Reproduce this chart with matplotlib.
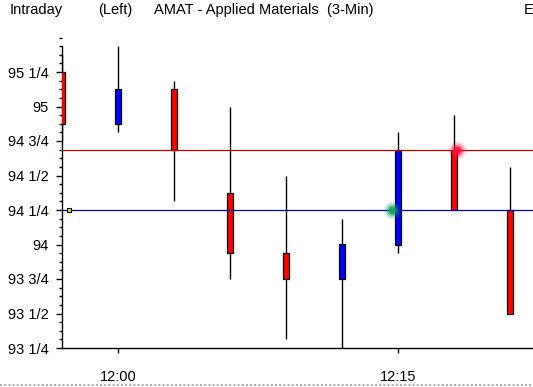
import matplotlib
matplotlib.use('Agg')
import matplotlib.pyplot as plt
from matplotlib.patches import Rectangle
from matplotlib.lines import Line2D
from matplotlib.ticker import MultipleLocator, FuncFormatter

plt.rcParams['font.family'] = ['Liberation Sans', 'DejaVu Sans']
plt.rcParams['font.size'] = 10

# 3-minute bars
times = ['11:57', '12:00', '12:03', '12:06', '12:09', '12:12', '12:15', '12:18', '12:21']
opens = [95.25, 94.875, 95.125, 94.375, 93.9375, 93.75, 94.0, 94.6875, 94.25]
highs = [95.375, 95.4375, 95.1875, 95.0, 94.5, 94.1875, 94.8125, 94.9375, 94.5625]
lows = [94.75, 94.8125, 94.3125, 93.75, 93.3125, 93.25, 93.9375, 94.25, 93.5]
closes = [94.875, 95.125, 94.6875, 93.9375, 93.75, 94.0, 94.6875, 94.25, 93.5]

# reference levels
upper_level = 94.6875
lower_level = 94.25

# signal dots (x in bar units, price)
buy_x, buy_y = 5.9, 94.25
sell_x, sell_y = 7.05, 94.6875
marker_x, marker_y = 0.12, 94.25


def frac_fmt(v, pos):
    whole = int(v // 1)
    rest = round((v - whole) * 4)
    names = {0: '', 1: ' 1/4', 2: ' 1/2', 3: ' 3/4'}
    return str(whole) + names[rest]


W, H = 533, 387
fig = plt.figure(figsize=(W / 100, H / 100), dpi=100)
ax = fig.add_axes([62 / W, (H - 348) / H, 1 - 62 / W, (348 - 30) / H])

body_w = 0.09
for i in range(len(times)):
    o, h, l, c = opens[i], highs[i], lows[i], closes[i]
    ax.plot([i, i], [l, h], color='black', lw=1.0, zorder=2, solid_capstyle='butt')
    col = 'blue' if c > o else 'red'
    ax.add_patch(Rectangle((i - body_w / 2, min(o, c)), body_w, abs(c - o),
                           facecolor=col, edgecolor='black', lw=0.9, zorder=3))

ax.axhline(upper_level, color='#c00000', lw=0.9, zorder=4)
ax.axhline(lower_level, color='#0000b0', lw=0.9, zorder=4)

# glowing dots
for s, a in [(170, 0.12), (110, 0.22), (60, 0.45), (28, 0.85)]:
    ax.scatter([buy_x], [buy_y], s=s, color='#10a060', alpha=a, lw=0, zorder=5)
    ax.scatter([sell_x], [sell_y], s=s, color='#ff1040', alpha=a, lw=0, zorder=5)

ax.plot([marker_x], [marker_y], marker='s', ms=3.5, mfc='#f0e000', mec='black',
        mew=0.8, zorder=6, clip_on=False)

ax.set_xlim(0, (W - 62) / 56)
ax.set_ylim(93.25, 93.25 + 318 / 138)

for s in ['top', 'right']:
    ax.spines[s].set_visible(False)
ax.spines['left'].set_bounds(93.25, 95.4375)
ax.spines['left'].set_linewidth(1.0)
ax.spines['bottom'].set_linewidth(1.0)

ax.yaxis.set_major_locator(MultipleLocator(0.25))
ax.yaxis.set_minor_locator(MultipleLocator(0.0625))
ax.yaxis.set_major_formatter(FuncFormatter(frac_fmt))
ax.set_yticks([v / 4 for v in range(373, 382)])
ax.tick_params(axis='y', which='major', length=4.5, width=1.0, pad=5, labelsize=10.5)
ax.tick_params(axis='y', which='minor', length=2.2, width=1.0)

tick_idx = [i for i, t in enumerate(times) if int(t.split(':')[1]) % 15 == 0]
ax.set_xticks(tick_idx)
ax.set_xticklabels([times[i] for i in tick_idx])
ax.tick_params(axis='x', length=3.5, width=1.0, pad=12, labelsize=10.5)

fig.text(10 / W, 1 - 10 / H, 'Intraday', va='center', fontsize=10.5)
fig.text(98 / W, 1 - 10 / H, '(Left)', va='center', fontsize=10.5)
fig.text(154 / W, 1 - 10 / H, 'AMAT - Applied Materials  (3-Min)', va='center', fontsize=10.5)
fig.text(524 / W, 1 - 10 / H, 'E', va='center', fontsize=10.5)

fig.add_artist(Line2D([0, 1], [1 - 385 / H, 1 - 385 / H], color='#b0b0b0',
                      lw=1.5, ls=(0, (1, 1)), transform=fig.transFigure))

fig.savefig('out.png', dpi=100)
